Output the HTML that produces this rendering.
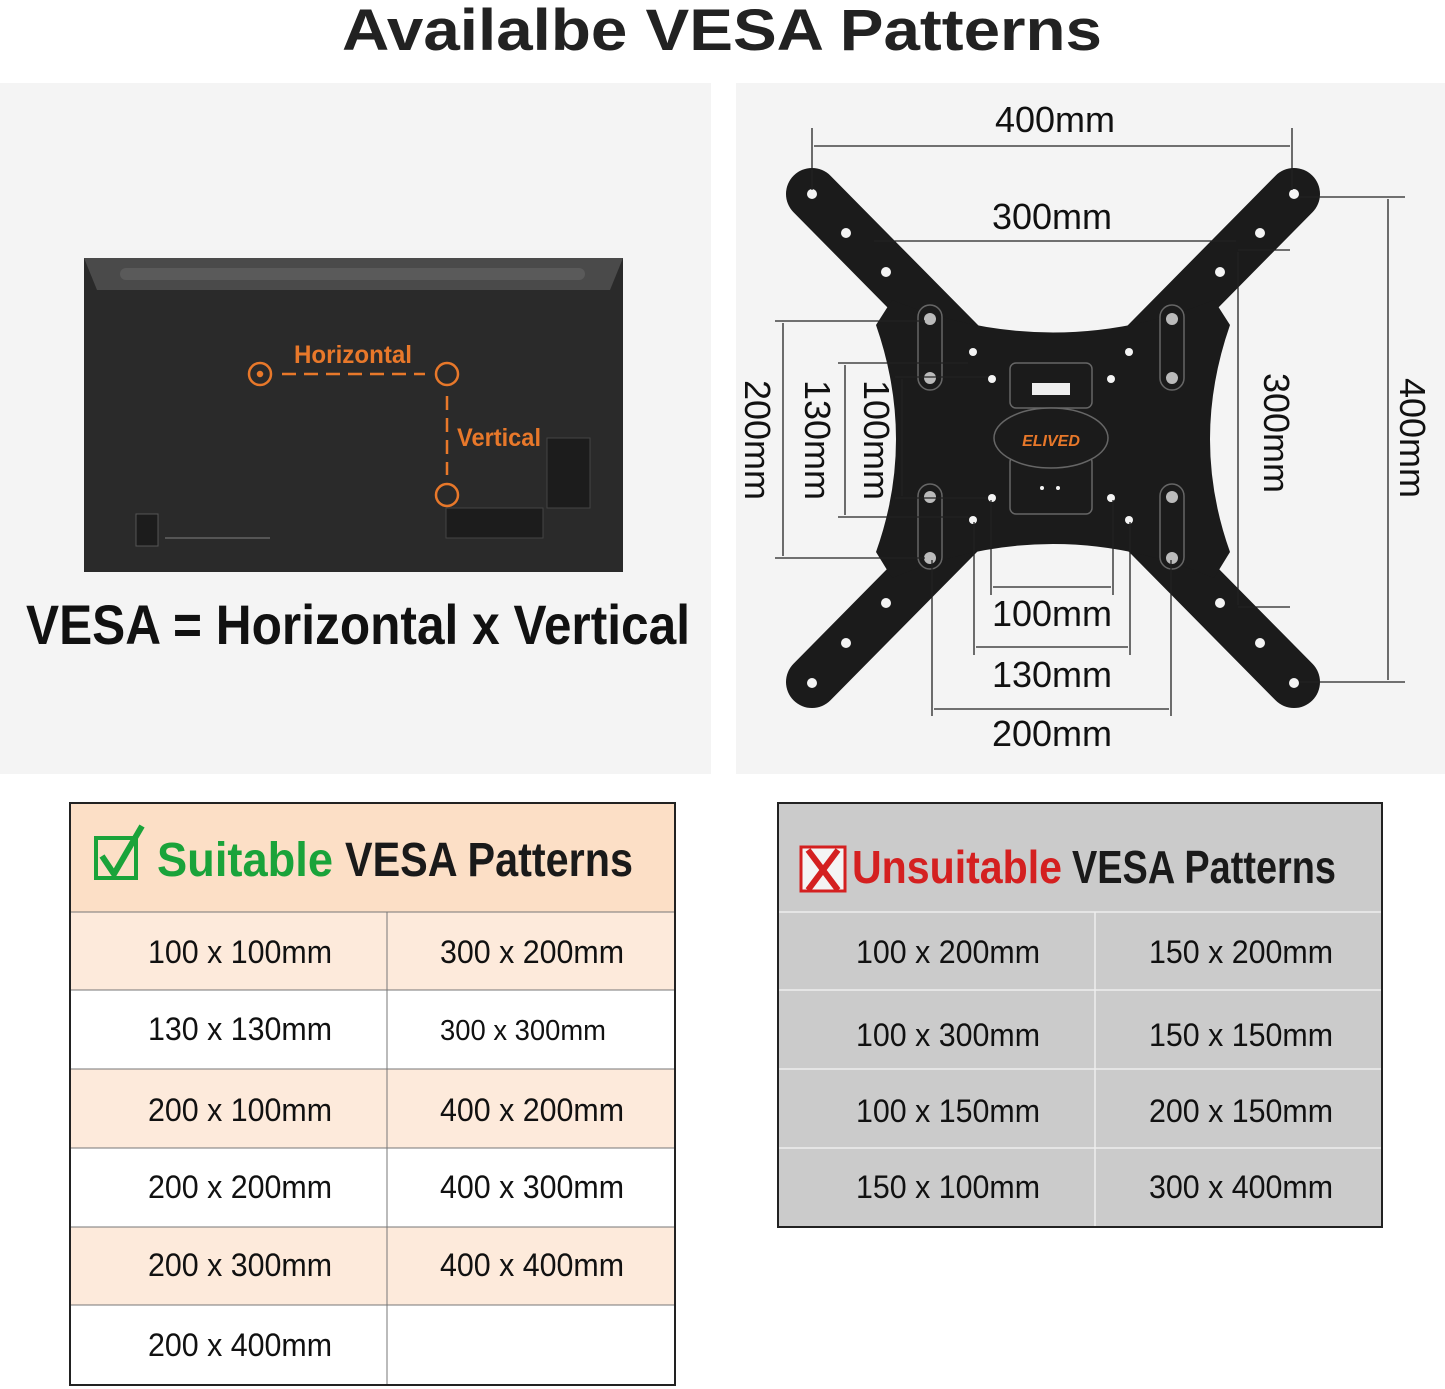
<!DOCTYPE html>
<html><head><meta charset="utf-8"><style>html,body{margin:0;padding:0;background:#fff}svg{display:block}</style></head>
<body>
<svg width="1445" height="1389" viewBox="0 0 1445 1389" xmlns="http://www.w3.org/2000/svg" font-family="Liberation Sans, sans-serif">
<rect width="1445" height="1389" fill="#fff"/>
<text x="722" y="50" text-anchor="middle" font-size="58" font-weight="bold" fill="#222" textLength="760" lengthAdjust="spacingAndGlyphs">Availalbe VESA Patterns</text>
<rect x="0" y="83" width="711" height="691" fill="#f4f4f4"/>
<rect x="736" y="83" width="709" height="691" fill="#f4f4f4"/>

<!-- TV -->
<rect x="84" y="258" width="539" height="314" fill="#2a2a2a"/>
<path d="M84 258 H623 L610 290 H97 Z" fill="#4a4a4a"/>
<rect x="120" y="268" width="465" height="12" rx="6" fill="#5a5a5a"/>
<rect x="547" y="438" width="43" height="70" fill="#1c1c1c" stroke="#444"/>
<rect x="446" y="508" width="97" height="30" fill="#1c1c1c" stroke="#444"/>
<rect x="136" y="514" width="22" height="32" fill="#1c1c1c" stroke="#555"/>
<line x1="165" y1="538" x2="270" y2="538" stroke="#555" stroke-width="2"/>
<g stroke="#e8782a" stroke-width="2.5" fill="none">
<circle cx="260" cy="374" r="11"/><circle cx="260" cy="374" r="2" fill="#e8782a"/>
<circle cx="447" cy="374" r="11"/>
<circle cx="447" cy="495" r="11"/>
<line x1="282" y1="374" x2="425" y2="374" stroke-dasharray="14 8"/>
<line x1="447" y1="396" x2="447" y2="475" stroke-dasharray="14 8"/>
</g>
<text x="294" y="363" font-size="25" font-weight="bold" fill="#e8782a" textLength="118" lengthAdjust="spacingAndGlyphs">Horizontal</text>
<text x="457" y="446" font-size="25" font-weight="bold" fill="#e8782a" textLength="84" lengthAdjust="spacingAndGlyphs">Vertical</text>
<text x="26" y="644" font-size="56" font-weight="bold" fill="#111" textLength="664" lengthAdjust="spacingAndGlyphs">VESA = Horizontal x Vertical</text>

<!-- Mount plate -->
<g fill="#1b1b1b">
<line x1="812" y1="194" x2="1294" y2="682" stroke="#1b1b1b" stroke-width="52" stroke-linecap="round"/>
<line x1="1294" y1="194" x2="812" y2="682" stroke="#1b1b1b" stroke-width="52" stroke-linecap="round"/>
<path d="M892 300 Q1053 365 1214 300 L1230 325 Q1190 440 1230 552 L1214 578 Q1053 510 892 578 L876 552 Q916 440 876 325 Z"/>
</g>
<g fill="#f4f4f4">
<circle cx="812" cy="194" r="5"/><circle cx="1294" cy="194" r="5"/><circle cx="812" cy="683" r="5"/><circle cx="1294" cy="683" r="5"/>
<circle cx="846" cy="233" r="5"/><circle cx="1260" cy="233" r="5"/><circle cx="846" cy="643" r="5"/><circle cx="1260" cy="643" r="5"/>
<circle cx="886" cy="272" r="5"/><circle cx="1220" cy="272" r="5"/><circle cx="886" cy="603" r="5"/><circle cx="1220" cy="603" r="5"/>
<circle cx="973" cy="352" r="4"/><circle cx="992" cy="379" r="4"/><circle cx="1129" cy="352" r="4"/><circle cx="1111" cy="379" r="4"/>
<circle cx="992" cy="498" r="4"/><circle cx="973" cy="520" r="4"/><circle cx="1111" cy="498" r="4"/><circle cx="1129" cy="520" r="4"/>
<circle cx="1042" cy="488" r="2"/><circle cx="1058" cy="488" r="2"/>
</g>
<g fill="#bbb"><circle cx="930" cy="319" r="6"/><circle cx="930" cy="378" r="6"/><circle cx="930" cy="497" r="6"/><circle cx="930" cy="558" r="6"/>
<circle cx="1172" cy="319" r="6"/><circle cx="1172" cy="378" r="6"/><circle cx="1172" cy="497" r="6"/><circle cx="1172" cy="558" r="6"/></g>
<g stroke="#666" stroke-width="1.5" fill="none">
<rect x="918" y="305" width="24" height="85" rx="12"/><rect x="918" y="484" width="24" height="85" rx="12"/>
<rect x="1160" y="305" width="24" height="85" rx="12"/><rect x="1160" y="484" width="24" height="85" rx="12"/>
<rect x="1010" y="363" width="82" height="45" rx="6"/><rect x="1010" y="456" width="82" height="58" rx="6"/>
<ellipse cx="1051" cy="438" rx="57" ry="30" fill="#1b1b1b"/>
</g>
<path d="M1032 383 h38 v12 h-38 z" fill="#eee"/>
<text x="1051" y="446" text-anchor="middle" font-size="16" font-style="italic" font-weight="bold" fill="#e8782a">ELIVED</text>

<!-- dimension lines -->
<g stroke="#222" stroke-width="1.3" fill="none">
<line x1="812" y1="128" x2="812" y2="190"/><line x1="1292" y1="128" x2="1292" y2="190"/>
<line x1="814" y1="146" x2="1290" y2="146"/>
<line x1="874" y1="241" x2="1236" y2="241"/>
<line x1="1300" y1="197" x2="1405" y2="197"/><line x1="1300" y1="682" x2="1405" y2="682"/>
<line x1="1388" y1="199" x2="1388" y2="680"/>
<line x1="1238" y1="250" x2="1290" y2="250"/><line x1="1238" y1="607" x2="1290" y2="607"/>
<line x1="1238" y1="252" x2="1238" y2="605"/>
<line x1="775" y1="321" x2="925" y2="321"/><line x1="775" y1="558" x2="925" y2="558"/>
<line x1="783" y1="323" x2="783" y2="556"/>
<line x1="838" y1="363" x2="968" y2="363"/><line x1="838" y1="517" x2="968" y2="517"/>
<line x1="845" y1="365" x2="845" y2="515"/>
<line x1="895" y1="377" x2="988" y2="377"/><line x1="895" y1="498" x2="988" y2="498"/>
<line x1="902" y1="379" x2="902" y2="496"/>
<line x1="991" y1="500" x2="991" y2="595"/><line x1="1113" y1="500" x2="1113" y2="595"/>
<line x1="993" y1="587" x2="1111" y2="587"/>
<line x1="974" y1="522" x2="974" y2="655"/><line x1="1130" y1="522" x2="1130" y2="655"/>
<line x1="976" y1="647" x2="1128" y2="647"/>
<line x1="932" y1="560" x2="932" y2="716"/><line x1="1171" y1="560" x2="1171" y2="716"/>
<line x1="934" y1="709" x2="1169" y2="709"/>
</g>
<g font-size="36" fill="#111" text-anchor="middle">
<text x="1055" y="132">400mm</text>
<text x="1052" y="229">300mm</text>
<text x="1052" y="626">100mm</text>
<text x="1052" y="687">130mm</text>
<text x="1052" y="746">200mm</text>
<text transform="translate(745,440) rotate(90)">200mm</text>
<text transform="translate(805,440) rotate(90)">130mm</text>
<text transform="translate(864,440) rotate(90)">100mm</text>
<text transform="translate(1264,433) rotate(90)">300mm</text>
<text transform="translate(1400,438) rotate(90)">400mm</text>
</g>

<!-- Suitable table -->
<rect x="70" y="803" width="605" height="109" fill="#fcdfc6"/>
<rect x="70" y="912" width="605" height="78" fill="#fdeadb"/>
<rect x="70" y="1069" width="605" height="79" fill="#fdeadb"/>
<rect x="70" y="1227" width="605" height="78" fill="#fdeadb"/>
<g stroke="#777" stroke-width="1"><line x1="70" y1="912" x2="675" y2="912"/><line x1="70" y1="990" x2="675" y2="990"/><line x1="70" y1="1069" x2="675" y2="1069"/><line x1="70" y1="1148" x2="675" y2="1148"/><line x1="70" y1="1227" x2="675" y2="1227"/><line x1="70" y1="1305" x2="675" y2="1305"/><line x1="387" y1="912" x2="387" y2="1385"/></g>
<rect x="70" y="803" width="605" height="582" fill="none" stroke="#222" stroke-width="2"/>
<rect x="96" y="838" width="40" height="40" fill="none" stroke="#1aa33a" stroke-width="4"/>
<path d="M102 856 L114 874 L142 826" stroke="#1aa33a" stroke-width="6" fill="none"/>
<text x="157" y="876" font-size="48" font-weight="bold" fill="#1aa33a" textLength="176" lengthAdjust="spacingAndGlyphs">Suitable</text>
<text x="345" y="876" font-size="48" font-weight="bold" fill="#1a1a1a" textLength="288" lengthAdjust="spacingAndGlyphs">VESA Patterns</text>
<g font-size="32" fill="#111" text-anchor="middle">
<text x="240" y="963" textLength="184" lengthAdjust="spacingAndGlyphs">100 x 100mm</text><text x="532" y="963" textLength="184" lengthAdjust="spacingAndGlyphs">300 x 200mm</text>
<text x="240" y="1040" textLength="184" lengthAdjust="spacingAndGlyphs">130 x 130mm</text><text x="523" y="1040" font-size="29" textLength="166" lengthAdjust="spacingAndGlyphs">300 x 300mm</text>
<text x="240" y="1121" textLength="184" lengthAdjust="spacingAndGlyphs">200 x 100mm</text><text x="532" y="1121" textLength="184" lengthAdjust="spacingAndGlyphs">400 x 200mm</text>
<text x="240" y="1198" textLength="184" lengthAdjust="spacingAndGlyphs">200 x 200mm</text><text x="532" y="1198" textLength="184" lengthAdjust="spacingAndGlyphs">400 x 300mm</text>
<text x="240" y="1276" textLength="184" lengthAdjust="spacingAndGlyphs">200 x 300mm</text><text x="532" y="1276" textLength="184" lengthAdjust="spacingAndGlyphs">400 x 400mm</text>
<text x="240" y="1356" textLength="184" lengthAdjust="spacingAndGlyphs">200 x 400mm</text>
</g>

<!-- Unsuitable table -->
<rect x="778" y="803" width="604" height="424" fill="#cbcbcb"/>
<g stroke="#eee" stroke-width="1.5"><line x1="778" y1="912" x2="1382" y2="912"/><line x1="778" y1="990" x2="1382" y2="990"/><line x1="778" y1="1069" x2="1382" y2="1069"/><line x1="778" y1="1148" x2="1382" y2="1148"/><line x1="1095" y1="912" x2="1095" y2="1227"/></g>
<rect x="778" y="803" width="604" height="424" fill="none" stroke="#222" stroke-width="2"/>
<rect x="801" y="847" width="44" height="44" fill="#f4f4f4" stroke="#d42020" stroke-width="3"/>
<path d="M808 850 L838 890 M838 850 L808 890" stroke="#d42020" stroke-width="6"/>
<text x="852" y="883" font-size="46" font-weight="bold" fill="#d42020" textLength="210" lengthAdjust="spacingAndGlyphs">Unsuitable</text>
<text x="1072" y="883" font-size="46" font-weight="bold" fill="#1a1a1a" textLength="264" lengthAdjust="spacingAndGlyphs">VESA Patterns</text>
<g font-size="32" fill="#111" text-anchor="middle">
<text x="948" y="963" textLength="184" lengthAdjust="spacingAndGlyphs">100 x 200mm</text><text x="1241" y="963" textLength="184" lengthAdjust="spacingAndGlyphs">150 x 200mm</text>
<text x="948" y="1046" textLength="184" lengthAdjust="spacingAndGlyphs">100 x 300mm</text><text x="1241" y="1046" textLength="184" lengthAdjust="spacingAndGlyphs">150 x 150mm</text>
<text x="948" y="1122" textLength="184" lengthAdjust="spacingAndGlyphs">100 x 150mm</text><text x="1241" y="1122" textLength="184" lengthAdjust="spacingAndGlyphs">200 x 150mm</text>
<text x="948" y="1198" textLength="184" lengthAdjust="spacingAndGlyphs">150 x 100mm</text><text x="1241" y="1198" textLength="184" lengthAdjust="spacingAndGlyphs">300 x 400mm</text>
</g>
</svg>
</body></html>
